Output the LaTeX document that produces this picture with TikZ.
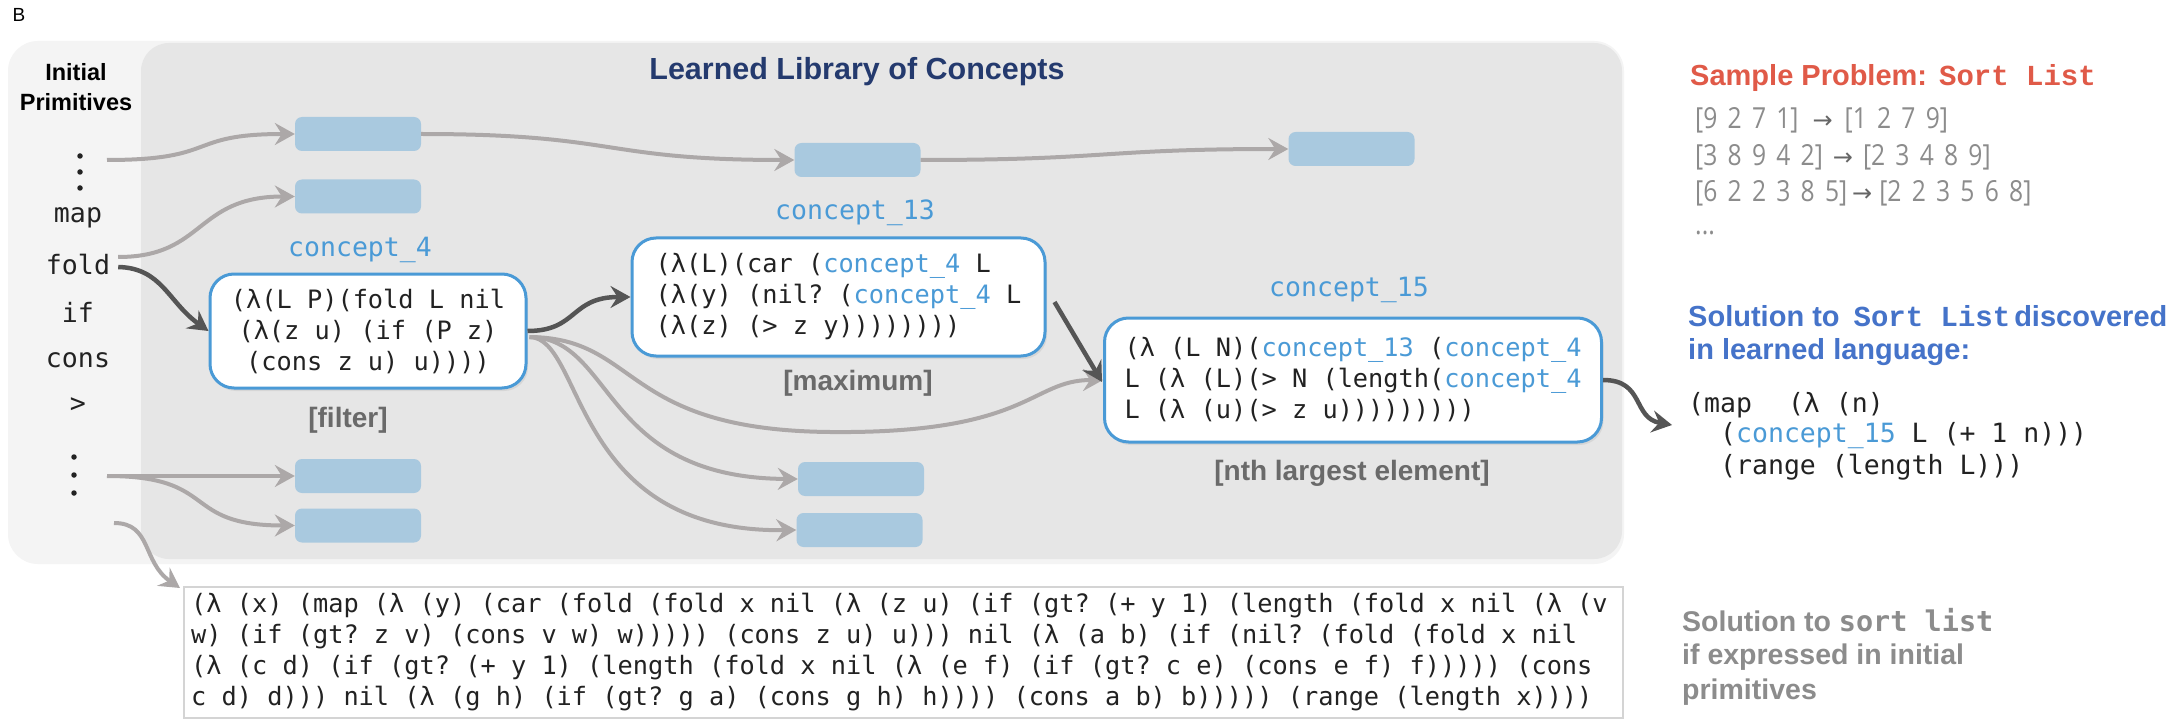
\documentclass[tikz,border=0pt]{standalone}
\usepackage{fontspec}
\setmainfont{Liberation Sans}
\setmonofont{DejaVu Sans Mono}
\newfontfamily\courfont{Liberation Mono}
\newfontfamily\exfont[FakeStretch=0.85,WordSpace=1.6]{Open Sans}
\newfontfamily\symfont{DejaVu Sans}
\usetikzlibrary{arrows.meta,calc,shadows}
\definecolor{outerbg}{HTML}{F4F4F4}
\definecolor{innerbg}{HTML}{E6E6E6}
\definecolor{blk}{HTML}{A9C9DF}
\definecolor{cblue}{HTML}{4A9AD6}
\definecolor{navy}{HTML}{243A6E}
\definecolor{lgarrow}{HTML}{ACA8A8}
\definecolor{dgarrow}{HTML}{555555}
\definecolor{redt}{HTML}{E05A48}
\definecolor{solblue}{HTML}{4573C9}
\definecolor{graytext}{HTML}{8C8C8C}
\definecolor{exarrow}{HTML}{666666}
\definecolor{labgray}{HTML}{6A6A6A}
\definecolor{codeblack}{HTML}{222222}
\definecolor{boxline}{HTML}{D4D4D4}
\newcommand{\setfs}[2]{\fontsize{#1}{#2}\selectfont}
\newcommand{\cbl}[1]{\textcolor{cblue}{#1}}
\newcommand{\exarr}{{\symfont\setfs{24}{30}\textcolor{exarrow}{→}}}
\begin{document}
\begin{tikzpicture}[x=1pt,y=-1pt,
  blockbox/.style={fill=blk, rounded corners=7pt, minimum width=126pt, minimum height=34pt, inner sep=0pt},
  concept/.style={draw=cblue, line width=3pt, fill=white, rounded corners=24pt, inner xsep=18pt, inner ysep=8pt,
     font=\setfs{25.3}{31}\ttfamily, text=codeblack,
     drop shadow={shadow xshift=2pt, shadow yshift=-3pt, opacity=0.15}},
  clabel/.style={text=cblue, font=\setfs{26.5}{31}\ttfamily},
  tag/.style={text=labgray, font=\setfs{28}{32}\bfseries},
  prim/.style={text=codeblack, font=\setfs{26.6}{30}\ttfamily, inner sep=0pt},
  dotn/.style={circle, fill=codeblack, inner sep=0pt, minimum size=5.5pt},
  larrow/.style={draw=lgarrow, line width=4pt, -{Stealth[length=20pt,width=22pt,inset=7pt]}},
  darrow/.style={draw=dgarrow, line width=4.5pt, -{Stealth[length=20pt,width=22pt,inset=7pt]}},
  rtext/.style={anchor=west, inner sep=0pt},
  extext/.style={anchor=west, inner sep=0pt, text=graytext, font=\setfs{29}{34}\exfont}
]
\useasboundingbox (0,0) rectangle (2183,727);
\fill[white] (0,0) rectangle (2183,727);

% panels
\fill[outerbg, rounded corners=30pt] (8,41) rectangle (1624,564);
\fill[innerbg, rounded corners=28pt] (141,43) rectangle (1622,559);

\node[font=\setfs{19}{22}, inner sep=0pt] (blabel) at (19,15) {B};
\node[text=navy, font=\setfs{30.5}{34}\bfseries] (title) at (857,72) {Learned Library of Concepts};
\node[align=center, font=\setfs{23.5}{30}\bfseries] (initp) at (76,87) {Initial\\Primitives};

% primitives
\node[dotn] (d1) at (80,156) {};
\node[dotn] (d2) at (80,172) {};
\node[dotn] (d3) at (80,188) {};
\node[prim] (pmap) at (78,218) {map};
\node[prim] (pfold) at (78,265) {fold};
\node[prim] (pif) at (78,312) {if};
\node[prim] (pcons) at (78,360) {cons};
\node[prim] (pgt) at (78,405) {>};
\node[dotn] (d4) at (74,457) {};
\node[dotn] (d5) at (74,475) {};
\node[dotn] (d6) at (74,493) {};

% blue blocks
\node[blockbox] (b1) at (358,134) {};
\node[blockbox] (b2) at (358,196.5) {};
\node[blockbox] (b3) at (358,476) {};
\node[blockbox] (b4) at (358,525.5) {};
\node[blockbox] (b5) at (857.5,160) {};
\node[blockbox] (b6) at (1351.5,149) {};
\node[blockbox] (b7) at (861,479) {};
\node[blockbox] (b8) at (859.5,530) {};

% concepts
\node[clabel] (c4lab) at (360,250) {concept\_4};
\node[concept, minimum width=316pt, minimum height=114pt, align=center] (c4) at (368,331)
  {(λ(L P)(fold L nil\\(λ(z u) (if (P z)\\(cons z u) u))))};
\node[tag] (ftag) at (348,420) {[filter]};

\node[clabel] (c13lab) at (855,213) {concept\_13};
\node[concept, minimum width=413pt, minimum height=118pt, align=left] (c13) at (838.5,297)
  {(λ(L)(car (\cbl{concept\_4} L\\(λ(y) (nil? (\cbl{concept\_4} L\\(λ(z) (> z y))))))))};
\node[tag] (mtag) at (858,383) {[maximum]};

\node[clabel] (c15lab) at (1349,290) {concept\_15};
\node[concept, minimum width=497pt, minimum height=124pt, align=left] (c15) at (1353,380)
  {(λ (L N)(\cbl{concept\_13} (\cbl{concept\_4}\\L (λ (L)(> N (length(\cbl{concept\_4}\\L (λ (u)(> z u)))))))))};
\node[tag] (ntag) at (1352,473) {[nth largest element]};

% bottom code box
\node[draw=boxline, line width=1.5pt, fill=white, minimum width=1439pt, minimum height=131pt, anchor=north west, inner sep=0pt] (codebox) at (183,586) {};
\node[anchor=west, align=left, inner sep=0pt, text=codeblack, font=\setfs{25.3}{31}\ttfamily] (codetext) at (191,652)
  {(λ (x) (map (λ (y) (car (fold (fold x nil (λ (z u) (if (gt? (+ y 1) (length (fold x nil (λ (v\\
w) (if (gt? z v) (cons v w) w))))) (cons z u) u))) nil (λ (a b) (if (nil? (fold (fold x nil\\
(λ (c d) (if (gt? (+ y 1) (length (fold x nil (λ (e f) (if (gt? c e) (cons e f) f))))) (cons\\
c d) d))) nil (λ (g h) (if (gt? g a) (cons g h) h)))) (cons a b) b))))) (range (length x))))};

% right column
\node[rtext, text=redt, font=\setfs{29}{34}\bfseries] (sp) at (1690,78) {Sample Problem:\hspace{12pt}{\courfont\bfseries Sort List}};
\node[extext] (ex1) at (1695,120) {[9 2 7 1]\hspace{14pt}\exarr\hspace{12pt}[1 2 7 9]};
\node[extext] (ex2) at (1695,157) {[3 8 9 4 2]\hspace{10pt}\exarr\hspace{10pt}[2 3 4 8 9]};
\node[extext] (ex3) at (1695,193) {[6 2 2 3 8 5]\hspace{5pt}\exarr\hspace{7pt}[2 2 3 5 6 8]};
\node[extext] (ex4) at (1695,233) {...};

\node[rtext, text=solblue, font=\setfs{29}{34}\bfseries] (sol1) at (1688,316) {Solution to\hspace{14pt}{\courfont\bfseries Sort List}\hspace{4pt}discovered};
\node[rtext, text=solblue, font=\setfs{29}{34}\bfseries] (sol2) at (1688,352) {in learned language:};
\node[rtext, text=codeblack, font=\setfs{26.5}{30}\ttfamily] (code1) at (1688,405) {(map\hspace{36pt}(λ (n)};
\node[rtext, text=codeblack, font=\setfs{26.5}{30}\ttfamily] (code2) at (1720,436) {(\cbl{concept\_15} L (+ 1 n)))};
\node[rtext, text=codeblack, font=\setfs{26.5}{30}\ttfamily] (code3) at (1720,467) {(range (length L)))};

\node[rtext, text=graytext, font=\setfs{28.5}{34}\bfseries] (g1) at (1682,620) {Solution to {\ttfamily\bfseries sort list}};
\node[rtext, text=graytext, font=\setfs{28.5}{34}\bfseries] (g2) at (1682,657) {if expressed in initial};
\node[rtext, text=graytext, font=\setfs{28.5}{34}\bfseries] (g3) at (1682,692) {primitives};

% free ends
\coordinate (s1) at (107,160);
\coordinate (s2) at (107,476);
\coordinate (s3) at (114,523);
\coordinate (t11) at (1672,425);

% connectors
\draw[larrow] (s1) .. controls (220,160) and (185,134) .. (b1.west);
\draw[larrow] ($(pfold.east)+(8,-8)$) .. controls (205,257) and (195,196.5) .. (b2.west);
\draw[darrow] ($(pfold.east)+(8,2)$) .. controls (162,268) and (168,302) .. (c4.west);
\draw[larrow] (b1.east) .. controls (620,134) and (600,160) .. (b5.west);
\draw[larrow] (b5.east) .. controls (1110,160) and (1100,149) .. (b6.west);
\draw[darrow] (c4.east) .. controls (578,331) and (570,297) .. (c13.west);
\draw[larrow] ($(c4.east)+(2,6)$) .. controls (640,338) and (620,430) .. (830,432)
   .. controls (1030,434) and (1030,380) .. (c15.west);
\draw[larrow] ($(c4.east)+(2,6)$) .. controls (615,338) and (600,478) .. (b7.west);
\draw[larrow] ($(c4.east)+(2,6)$) .. controls (585,338) and (570,533) .. (b8.west);
\draw[darrow] ($(c13.east)+(8,5)$) -- ($(c15.west)+(-1,2)$);
\draw[larrow] (s2) -- (b3.west);
\draw[larrow] (s2) .. controls (220,476) and (180,525.5) .. (b4.west);
\draw[larrow] (s3) .. controls (152,523) and (142,562) .. ($(codebox.north west)+(-3,2)$);
\draw[darrow] (c15.east) .. controls (1645,380) and (1632,418) .. (t11);
\end{tikzpicture}
\end{document}
